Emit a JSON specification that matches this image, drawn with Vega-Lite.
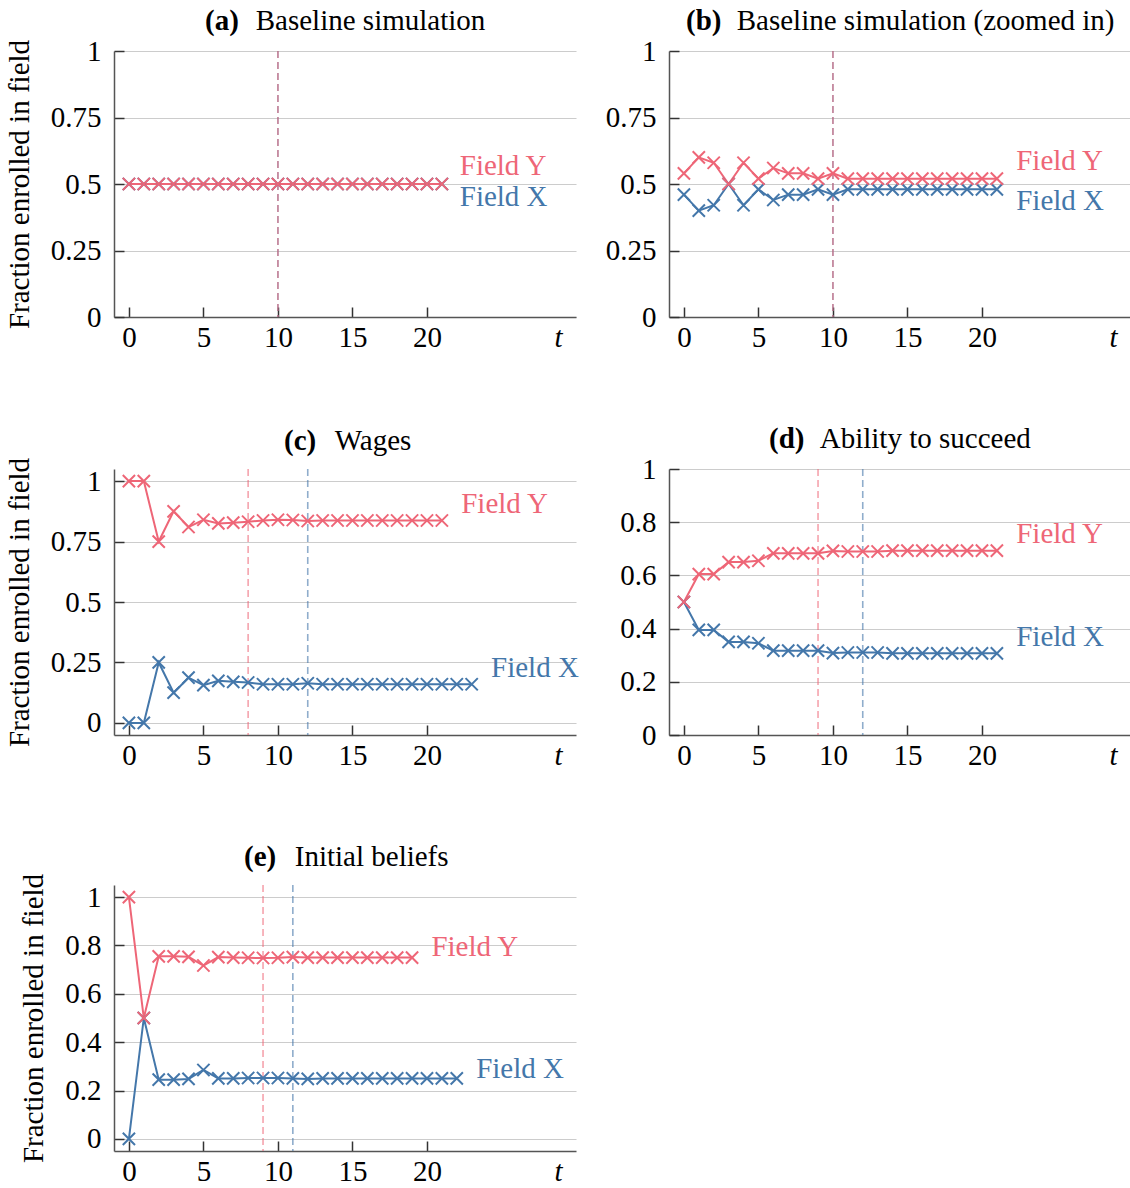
{
  "$schema": "https://vega.github.io/schema/vega-lite/v6.json",
  "background": "white",
  "padding": {"left": 5, "top": 7, "right": 5, "bottom": 5},
  "columns": 2,
  "spacing": {"row": 73, "column": 26},
  "config": {
    "font": "Liberation Serif",
    "view": {"stroke": null},
    "title": {"font": "Liberation Serif", "fontSize": 29, "fontWeight": "bold", "color": "#000", "anchor": "start", "frame": "group", "subtitleFont": "Liberation Serif", "subtitleFontSize": 29, "subtitleFontWeight": "normal", "subtitleColor": "#000", "subtitlePadding": -29, "offset": 1},
    "axis": {"labelFont": "Liberation Serif", "labelFontSize": 29, "labelColor": "#000", "titleFont": "Liberation Serif", "titleFontSize": 29, "titleFontWeight": "normal", "titleColor": "#000", "domainColor": "#555", "domainWidth": 1.5, "tickColor": "#333", "tickWidth": 1.5, "tickSize": -10, "gridColor": "#cccccc", "gridWidth": 1.2, "labelFlush": false, "labelOverlap": false},
    "axisX": {"grid": false, "labelPadding": 16},
    "axisY": {"grid": true, "labelPadding": 23, "titlePadding": 16}
  },
  "datasets": {
    "rules": [
      {"panel": "a", "series": "Field X", "t": 10}, {"panel": "a", "series": "Field Y", "t": 10},
      {"panel": "b", "series": "Field X", "t": 10}, {"panel": "b", "series": "Field Y", "t": 10},
      {"panel": "c", "series": "Field Y", "t": 8}, {"panel": "c", "series": "Field X", "t": 12},
      {"panel": "d", "series": "Field Y", "t": 9}, {"panel": "d", "series": "Field X", "t": 12},
      {"panel": "e", "series": "Field Y", "t": 9}, {"panel": "e", "series": "Field X", "t": 11}
    ],
    "labels": [
      {"panel": "a", "series": "Field Y", "t": 22.2, "share": 0.568}, {"panel": "a", "series": "Field X", "t": 22.2, "share": 0.45},
      {"panel": "b", "series": "Field Y", "t": 22.3, "share": 0.586}, {"panel": "b", "series": "Field X", "t": 22.3, "share": 0.436},
      {"panel": "c", "series": "Field Y", "t": 22.3, "share": 0.905}, {"panel": "c", "series": "Field X", "t": 24.3, "share": 0.227},
      {"panel": "d", "series": "Field Y", "t": 22.3, "share": 0.756}, {"panel": "d", "series": "Field X", "t": 22.3, "share": 0.368},
      {"panel": "e", "series": "Field Y", "t": 20.3, "share": 0.793}, {"panel": "e", "series": "Field X", "t": 23.3, "share": 0.29}
    ],
    "series": [
      {"panel": "a", "series": "Field X", "t": 0, "share": 0.5}, {"panel": "a", "series": "Field X", "t": 1, "share": 0.5}, {"panel": "a", "series": "Field X", "t": 2, "share": 0.5}, {"panel": "a", "series": "Field X", "t": 3, "share": 0.5}, {"panel": "a", "series": "Field X", "t": 4, "share": 0.5}, {"panel": "a", "series": "Field X", "t": 5, "share": 0.5}, {"panel": "a", "series": "Field X", "t": 6, "share": 0.5}, {"panel": "a", "series": "Field X", "t": 7, "share": 0.5}, {"panel": "a", "series": "Field X", "t": 8, "share": 0.5}, {"panel": "a", "series": "Field X", "t": 9, "share": 0.5}, {"panel": "a", "series": "Field X", "t": 10, "share": 0.5}, {"panel": "a", "series": "Field X", "t": 11, "share": 0.5}, {"panel": "a", "series": "Field X", "t": 12, "share": 0.5}, {"panel": "a", "series": "Field X", "t": 13, "share": 0.5}, {"panel": "a", "series": "Field X", "t": 14, "share": 0.5}, {"panel": "a", "series": "Field X", "t": 15, "share": 0.5}, {"panel": "a", "series": "Field X", "t": 16, "share": 0.5}, {"panel": "a", "series": "Field X", "t": 17, "share": 0.5}, {"panel": "a", "series": "Field X", "t": 18, "share": 0.5}, {"panel": "a", "series": "Field X", "t": 19, "share": 0.5}, {"panel": "a", "series": "Field X", "t": 20, "share": 0.5}, {"panel": "a", "series": "Field X", "t": 21, "share": 0.5},
      {"panel": "a", "series": "Field Y", "t": 0, "share": 0.5}, {"panel": "a", "series": "Field Y", "t": 1, "share": 0.5}, {"panel": "a", "series": "Field Y", "t": 2, "share": 0.5}, {"panel": "a", "series": "Field Y", "t": 3, "share": 0.5}, {"panel": "a", "series": "Field Y", "t": 4, "share": 0.5}, {"panel": "a", "series": "Field Y", "t": 5, "share": 0.5}, {"panel": "a", "series": "Field Y", "t": 6, "share": 0.5}, {"panel": "a", "series": "Field Y", "t": 7, "share": 0.5}, {"panel": "a", "series": "Field Y", "t": 8, "share": 0.5}, {"panel": "a", "series": "Field Y", "t": 9, "share": 0.5}, {"panel": "a", "series": "Field Y", "t": 10, "share": 0.5}, {"panel": "a", "series": "Field Y", "t": 11, "share": 0.5}, {"panel": "a", "series": "Field Y", "t": 12, "share": 0.5}, {"panel": "a", "series": "Field Y", "t": 13, "share": 0.5}, {"panel": "a", "series": "Field Y", "t": 14, "share": 0.5}, {"panel": "a", "series": "Field Y", "t": 15, "share": 0.5}, {"panel": "a", "series": "Field Y", "t": 16, "share": 0.5}, {"panel": "a", "series": "Field Y", "t": 17, "share": 0.5}, {"panel": "a", "series": "Field Y", "t": 18, "share": 0.5}, {"panel": "a", "series": "Field Y", "t": 19, "share": 0.5}, {"panel": "a", "series": "Field Y", "t": 20, "share": 0.5}, {"panel": "a", "series": "Field Y", "t": 21, "share": 0.5},
      {"panel": "b", "series": "Field X", "t": 0, "share": 0.46}, {"panel": "b", "series": "Field X", "t": 1, "share": 0.40}, {"panel": "b", "series": "Field X", "t": 2, "share": 0.42}, {"panel": "b", "series": "Field X", "t": 3, "share": 0.50}, {"panel": "b", "series": "Field X", "t": 4, "share": 0.42}, {"panel": "b", "series": "Field X", "t": 5, "share": 0.48}, {"panel": "b", "series": "Field X", "t": 6, "share": 0.44}, {"panel": "b", "series": "Field X", "t": 7, "share": 0.46}, {"panel": "b", "series": "Field X", "t": 8, "share": 0.46}, {"panel": "b", "series": "Field X", "t": 9, "share": 0.48}, {"panel": "b", "series": "Field X", "t": 10, "share": 0.46}, {"panel": "b", "series": "Field X", "t": 11, "share": 0.48}, {"panel": "b", "series": "Field X", "t": 12, "share": 0.48}, {"panel": "b", "series": "Field X", "t": 13, "share": 0.48}, {"panel": "b", "series": "Field X", "t": 14, "share": 0.48}, {"panel": "b", "series": "Field X", "t": 15, "share": 0.48}, {"panel": "b", "series": "Field X", "t": 16, "share": 0.48}, {"panel": "b", "series": "Field X", "t": 17, "share": 0.48}, {"panel": "b", "series": "Field X", "t": 18, "share": 0.48}, {"panel": "b", "series": "Field X", "t": 19, "share": 0.48}, {"panel": "b", "series": "Field X", "t": 20, "share": 0.48}, {"panel": "b", "series": "Field X", "t": 21, "share": 0.48},
      {"panel": "b", "series": "Field Y", "t": 0, "share": 0.54}, {"panel": "b", "series": "Field Y", "t": 1, "share": 0.60}, {"panel": "b", "series": "Field Y", "t": 2, "share": 0.58}, {"panel": "b", "series": "Field Y", "t": 3, "share": 0.50}, {"panel": "b", "series": "Field Y", "t": 4, "share": 0.58}, {"panel": "b", "series": "Field Y", "t": 5, "share": 0.52}, {"panel": "b", "series": "Field Y", "t": 6, "share": 0.56}, {"panel": "b", "series": "Field Y", "t": 7, "share": 0.54}, {"panel": "b", "series": "Field Y", "t": 8, "share": 0.54}, {"panel": "b", "series": "Field Y", "t": 9, "share": 0.52}, {"panel": "b", "series": "Field Y", "t": 10, "share": 0.54}, {"panel": "b", "series": "Field Y", "t": 11, "share": 0.52}, {"panel": "b", "series": "Field Y", "t": 12, "share": 0.52}, {"panel": "b", "series": "Field Y", "t": 13, "share": 0.52}, {"panel": "b", "series": "Field Y", "t": 14, "share": 0.52}, {"panel": "b", "series": "Field Y", "t": 15, "share": 0.52}, {"panel": "b", "series": "Field Y", "t": 16, "share": 0.52}, {"panel": "b", "series": "Field Y", "t": 17, "share": 0.52}, {"panel": "b", "series": "Field Y", "t": 18, "share": 0.52}, {"panel": "b", "series": "Field Y", "t": 19, "share": 0.52}, {"panel": "b", "series": "Field Y", "t": 20, "share": 0.52}, {"panel": "b", "series": "Field Y", "t": 21, "share": 0.52},
      {"panel": "c", "series": "Field X", "t": 0, "share": 0}, {"panel": "c", "series": "Field X", "t": 1, "share": 0}, {"panel": "c", "series": "Field X", "t": 2, "share": 0.25}, {"panel": "c", "series": "Field X", "t": 3, "share": 0.125}, {"panel": "c", "series": "Field X", "t": 4, "share": 0.187}, {"panel": "c", "series": "Field X", "t": 5, "share": 0.156}, {"panel": "c", "series": "Field X", "t": 6, "share": 0.174}, {"panel": "c", "series": "Field X", "t": 7, "share": 0.17}, {"panel": "c", "series": "Field X", "t": 8, "share": 0.167}, {"panel": "c", "series": "Field X", "t": 9, "share": 0.16}, {"panel": "c", "series": "Field X", "t": 10, "share": 0.16}, {"panel": "c", "series": "Field X", "t": 11, "share": 0.16}, {"panel": "c", "series": "Field X", "t": 12, "share": 0.164}, {"panel": "c", "series": "Field X", "t": 13, "share": 0.16}, {"panel": "c", "series": "Field X", "t": 14, "share": 0.16}, {"panel": "c", "series": "Field X", "t": 15, "share": 0.16}, {"panel": "c", "series": "Field X", "t": 16, "share": 0.16}, {"panel": "c", "series": "Field X", "t": 17, "share": 0.16}, {"panel": "c", "series": "Field X", "t": 18, "share": 0.16}, {"panel": "c", "series": "Field X", "t": 19, "share": 0.16}, {"panel": "c", "series": "Field X", "t": 20, "share": 0.16}, {"panel": "c", "series": "Field X", "t": 21, "share": 0.16}, {"panel": "c", "series": "Field X", "t": 22, "share": 0.16}, {"panel": "c", "series": "Field X", "t": 23, "share": 0.16},
      {"panel": "c", "series": "Field Y", "t": 0, "share": 1}, {"panel": "c", "series": "Field Y", "t": 1, "share": 1}, {"panel": "c", "series": "Field Y", "t": 2, "share": 0.75}, {"panel": "c", "series": "Field Y", "t": 3, "share": 0.875}, {"panel": "c", "series": "Field Y", "t": 4, "share": 0.81}, {"panel": "c", "series": "Field Y", "t": 5, "share": 0.84}, {"panel": "c", "series": "Field Y", "t": 6, "share": 0.825}, {"panel": "c", "series": "Field Y", "t": 7, "share": 0.828}, {"panel": "c", "series": "Field Y", "t": 8, "share": 0.832}, {"panel": "c", "series": "Field Y", "t": 9, "share": 0.837}, {"panel": "c", "series": "Field Y", "t": 10, "share": 0.84}, {"panel": "c", "series": "Field Y", "t": 11, "share": 0.839}, {"panel": "c", "series": "Field Y", "t": 12, "share": 0.835}, {"panel": "c", "series": "Field Y", "t": 13, "share": 0.837}, {"panel": "c", "series": "Field Y", "t": 14, "share": 0.837}, {"panel": "c", "series": "Field Y", "t": 15, "share": 0.837}, {"panel": "c", "series": "Field Y", "t": 16, "share": 0.837}, {"panel": "c", "series": "Field Y", "t": 17, "share": 0.837}, {"panel": "c", "series": "Field Y", "t": 18, "share": 0.837}, {"panel": "c", "series": "Field Y", "t": 19, "share": 0.837}, {"panel": "c", "series": "Field Y", "t": 20, "share": 0.837}, {"panel": "c", "series": "Field Y", "t": 21, "share": 0.837},
      {"panel": "d", "series": "Field X", "t": 0, "share": 0.5}, {"panel": "d", "series": "Field X", "t": 1, "share": 0.395}, {"panel": "d", "series": "Field X", "t": 2, "share": 0.395}, {"panel": "d", "series": "Field X", "t": 3, "share": 0.35}, {"panel": "d", "series": "Field X", "t": 4, "share": 0.35}, {"panel": "d", "series": "Field X", "t": 5, "share": 0.345}, {"panel": "d", "series": "Field X", "t": 6, "share": 0.317}, {"panel": "d", "series": "Field X", "t": 7, "share": 0.317}, {"panel": "d", "series": "Field X", "t": 8, "share": 0.317}, {"panel": "d", "series": "Field X", "t": 9, "share": 0.317}, {"panel": "d", "series": "Field X", "t": 10, "share": 0.308}, {"panel": "d", "series": "Field X", "t": 11, "share": 0.31}, {"panel": "d", "series": "Field X", "t": 12, "share": 0.31}, {"panel": "d", "series": "Field X", "t": 13, "share": 0.31}, {"panel": "d", "series": "Field X", "t": 14, "share": 0.307}, {"panel": "d", "series": "Field X", "t": 15, "share": 0.307}, {"panel": "d", "series": "Field X", "t": 16, "share": 0.307}, {"panel": "d", "series": "Field X", "t": 17, "share": 0.307}, {"panel": "d", "series": "Field X", "t": 18, "share": 0.307}, {"panel": "d", "series": "Field X", "t": 19, "share": 0.307}, {"panel": "d", "series": "Field X", "t": 20, "share": 0.307}, {"panel": "d", "series": "Field X", "t": 21, "share": 0.307},
      {"panel": "d", "series": "Field Y", "t": 0, "share": 0.5}, {"panel": "d", "series": "Field Y", "t": 1, "share": 0.605}, {"panel": "d", "series": "Field Y", "t": 2, "share": 0.605}, {"panel": "d", "series": "Field Y", "t": 3, "share": 0.65}, {"panel": "d", "series": "Field Y", "t": 4, "share": 0.65}, {"panel": "d", "series": "Field Y", "t": 5, "share": 0.655}, {"panel": "d", "series": "Field Y", "t": 6, "share": 0.683}, {"panel": "d", "series": "Field Y", "t": 7, "share": 0.683}, {"panel": "d", "series": "Field Y", "t": 8, "share": 0.683}, {"panel": "d", "series": "Field Y", "t": 9, "share": 0.683}, {"panel": "d", "series": "Field Y", "t": 10, "share": 0.692}, {"panel": "d", "series": "Field Y", "t": 11, "share": 0.69}, {"panel": "d", "series": "Field Y", "t": 12, "share": 0.69}, {"panel": "d", "series": "Field Y", "t": 13, "share": 0.69}, {"panel": "d", "series": "Field Y", "t": 14, "share": 0.693}, {"panel": "d", "series": "Field Y", "t": 15, "share": 0.693}, {"panel": "d", "series": "Field Y", "t": 16, "share": 0.693}, {"panel": "d", "series": "Field Y", "t": 17, "share": 0.693}, {"panel": "d", "series": "Field Y", "t": 18, "share": 0.693}, {"panel": "d", "series": "Field Y", "t": 19, "share": 0.693}, {"panel": "d", "series": "Field Y", "t": 20, "share": 0.693}, {"panel": "d", "series": "Field Y", "t": 21, "share": 0.693},
      {"panel": "e", "series": "Field X", "t": 0, "share": 0}, {"panel": "e", "series": "Field X", "t": 1, "share": 0.5}, {"panel": "e", "series": "Field X", "t": 2, "share": 0.245}, {"panel": "e", "series": "Field X", "t": 3, "share": 0.245}, {"panel": "e", "series": "Field X", "t": 4, "share": 0.248}, {"panel": "e", "series": "Field X", "t": 5, "share": 0.285}, {"panel": "e", "series": "Field X", "t": 6, "share": 0.25}, {"panel": "e", "series": "Field X", "t": 7, "share": 0.25}, {"panel": "e", "series": "Field X", "t": 8, "share": 0.252}, {"panel": "e", "series": "Field X", "t": 9, "share": 0.252}, {"panel": "e", "series": "Field X", "t": 10, "share": 0.252}, {"panel": "e", "series": "Field X", "t": 11, "share": 0.25}, {"panel": "e", "series": "Field X", "t": 12, "share": 0.248}, {"panel": "e", "series": "Field X", "t": 13, "share": 0.25}, {"panel": "e", "series": "Field X", "t": 14, "share": 0.25}, {"panel": "e", "series": "Field X", "t": 15, "share": 0.25}, {"panel": "e", "series": "Field X", "t": 16, "share": 0.25}, {"panel": "e", "series": "Field X", "t": 17, "share": 0.25}, {"panel": "e", "series": "Field X", "t": 18, "share": 0.25}, {"panel": "e", "series": "Field X", "t": 19, "share": 0.25}, {"panel": "e", "series": "Field X", "t": 20, "share": 0.25}, {"panel": "e", "series": "Field X", "t": 21, "share": 0.25}, {"panel": "e", "series": "Field X", "t": 22, "share": 0.25},
      {"panel": "e", "series": "Field Y", "t": 0, "share": 1}, {"panel": "e", "series": "Field Y", "t": 1, "share": 0.5}, {"panel": "e", "series": "Field Y", "t": 2, "share": 0.755}, {"panel": "e", "series": "Field Y", "t": 3, "share": 0.755}, {"panel": "e", "series": "Field Y", "t": 4, "share": 0.753}, {"panel": "e", "series": "Field Y", "t": 5, "share": 0.717}, {"panel": "e", "series": "Field Y", "t": 6, "share": 0.752}, {"panel": "e", "series": "Field Y", "t": 7, "share": 0.75}, {"panel": "e", "series": "Field Y", "t": 8, "share": 0.749}, {"panel": "e", "series": "Field Y", "t": 9, "share": 0.748}, {"panel": "e", "series": "Field Y", "t": 10, "share": 0.749}, {"panel": "e", "series": "Field Y", "t": 11, "share": 0.752}, {"panel": "e", "series": "Field Y", "t": 12, "share": 0.75}, {"panel": "e", "series": "Field Y", "t": 13, "share": 0.75}, {"panel": "e", "series": "Field Y", "t": 14, "share": 0.75}, {"panel": "e", "series": "Field Y", "t": 15, "share": 0.75}, {"panel": "e", "series": "Field Y", "t": 16, "share": 0.75}, {"panel": "e", "series": "Field Y", "t": 17, "share": 0.75}, {"panel": "e", "series": "Field Y", "t": 18, "share": 0.75}, {"panel": "e", "series": "Field Y", "t": 19, "share": 0.75}
    ]
  },
  "concat": [
    {
      "width": 462, "height": 266,
      "title": {"text": "(a)", "subtitle": "\u200b\u00a0\u00a0\u00a0\u00a0\u00a0\u00a0\u00a0Baseline simulation", "dx": 91},
      "layer": [
        {"data": {"name": "rules"}, "transform": [{"filter": "datum.panel === 'a'"}], "mark": {"type": "rule", "strokeDash": [7, 4], "strokeWidth": 1.6, "opacity": 0.6},
         "encoding": {"x": {"field": "t", "type": "quantitative"}, "color": {"field": "series", "type": "nominal", "scale": {"domain": ["Field X", "Field Y"], "range": ["#4477AA", "#EE6677"]}, "legend": null}}},
        {"data": {"name": "series"}, "transform": [{"filter": "datum.panel === 'a'"}], "mark": {"type": "line", "strokeWidth": 2},
         "encoding": {"x": {"field": "t", "type": "quantitative", "scale": {"domain": [-1, 30], "nice": false, "zero": false}, "axis": {"title": null, "values": [0, 5, 10, 15, 20, 28.8], "format": ".2~g", "labelExpr": "datum.value > 25 ? 't' : datum.label", "tickOpacity": {"condition": {"test": "datum.value > 25", "value": 0}, "value": 1}, "labelFontStyle": {"condition": {"test": "datum.value > 25", "value": "italic"}, "value": "normal"}}},
                      "y": {"field": "share", "type": "quantitative", "scale": {"domain": [0, 1], "nice": false, "zero": false}, "axis": {"title": "Fraction enrolled in field", "values": [0, 0.25, 0.5, 0.75, 1], "format": ".2~g"}},
                      "color": {"field": "series", "type": "nominal", "legend": null}}},
        {"data": {"name": "series"}, "transform": [{"filter": "datum.panel === 'a'"}], "mark": {"type": "point", "shape": "M-1,-1L1,1M-1,1L1,-1", "filled": false, "size": 150, "strokeWidth": 2, "opacity": 1},
         "encoding": {"x": {"field": "t", "type": "quantitative"}, "y": {"field": "share", "type": "quantitative"}, "color": {"field": "series", "type": "nominal", "legend": null}}},
        {"data": {"name": "labels"}, "transform": [{"filter": "datum.panel === 'a'"}], "mark": {"type": "text", "align": "left", "baseline": "middle", "font": "Liberation Serif", "fontSize": 29},
         "encoding": {"x": {"field": "t", "type": "quantitative"}, "y": {"field": "share", "type": "quantitative"}, "text": {"field": "series"}, "color": {"field": "series", "type": "nominal", "legend": null}}}
      ]
    },
    {
      "width": 462, "height": 266,
      "title": {"text": "(b)", "subtitle": "\u200b\u00a0\u00a0\u00a0\u00a0\u00a0\u00a0\u00a0Baseline simulation (zoomed in)", "dx": 17},
      "layer": [
        {"data": {"name": "rules"}, "transform": [{"filter": "datum.panel === 'b'"}], "mark": {"type": "rule", "strokeDash": [7, 4], "strokeWidth": 1.6, "opacity": 0.6},
         "encoding": {"x": {"field": "t", "type": "quantitative"}, "color": {"field": "series", "type": "nominal", "scale": {"domain": ["Field X", "Field Y"], "range": ["#4477AA", "#EE6677"]}, "legend": null}}},
        {"data": {"name": "series"}, "transform": [{"filter": "datum.panel === 'b'"}], "mark": {"type": "line", "strokeWidth": 2},
         "encoding": {"x": {"field": "t", "type": "quantitative", "scale": {"domain": [-1, 30], "nice": false, "zero": false}, "axis": {"title": null, "values": [0, 5, 10, 15, 20, 28.8], "format": ".2~g", "labelExpr": "datum.value > 25 ? 't' : datum.label", "tickOpacity": {"condition": {"test": "datum.value > 25", "value": 0}, "value": 1}, "labelFontStyle": {"condition": {"test": "datum.value > 25", "value": "italic"}, "value": "normal"}}},
                      "y": {"field": "share", "type": "quantitative", "scale": {"domain": [0, 1], "nice": false, "zero": false}, "axis": {"title": null, "values": [0, 0.25, 0.5, 0.75, 1], "format": ".2~g"}},
                      "color": {"field": "series", "type": "nominal", "legend": null}}},
        {"data": {"name": "series"}, "transform": [{"filter": "datum.panel === 'b'"}], "mark": {"type": "point", "shape": "M-1,-1L1,1M-1,1L1,-1", "filled": false, "size": 150, "strokeWidth": 2, "opacity": 1},
         "encoding": {"x": {"field": "t", "type": "quantitative"}, "y": {"field": "share", "type": "quantitative"}, "color": {"field": "series", "type": "nominal", "legend": null}}},
        {"data": {"name": "labels"}, "transform": [{"filter": "datum.panel === 'b'"}], "mark": {"type": "text", "align": "left", "baseline": "middle", "font": "Liberation Serif", "fontSize": 29},
         "encoding": {"x": {"field": "t", "type": "quantitative"}, "y": {"field": "share", "type": "quantitative"}, "text": {"field": "series"}, "color": {"field": "series", "type": "nominal", "legend": null}}}
      ]
    },
    {
      "width": 462, "height": 266,
      "title": {"text": "(c)", "subtitle": "\u200b\u00a0\u00a0\u00a0\u00a0\u00a0\u00a0\u00a0Wages", "dx": 170},
      "layer": [
        {"data": {"name": "rules"}, "transform": [{"filter": "datum.panel === 'c'"}], "mark": {"type": "rule", "strokeDash": [7, 4], "strokeWidth": 1.6, "opacity": 0.6},
         "encoding": {"x": {"field": "t", "type": "quantitative"}, "color": {"field": "series", "type": "nominal", "scale": {"domain": ["Field X", "Field Y"], "range": ["#4477AA", "#EE6677"]}, "legend": null}}},
        {"data": {"name": "series"}, "transform": [{"filter": "datum.panel === 'c'"}], "mark": {"type": "line", "strokeWidth": 2},
         "encoding": {"x": {"field": "t", "type": "quantitative", "scale": {"domain": [-1, 30], "nice": false, "zero": false}, "axis": {"title": null, "values": [0, 5, 10, 15, 20, 28.8], "format": ".2~g", "labelExpr": "datum.value > 25 ? 't' : datum.label", "tickOpacity": {"condition": {"test": "datum.value > 25", "value": 0}, "value": 1}, "labelFontStyle": {"condition": {"test": "datum.value > 25", "value": "italic"}, "value": "normal"}}},
                      "y": {"field": "share", "type": "quantitative", "scale": {"domain": [-0.05, 1.05], "nice": false, "zero": false}, "axis": {"title": "Fraction enrolled in field", "values": [0, 0.25, 0.5, 0.75, 1], "format": ".2~g"}},
                      "color": {"field": "series", "type": "nominal", "legend": null}}},
        {"data": {"name": "series"}, "transform": [{"filter": "datum.panel === 'c'"}], "mark": {"type": "point", "shape": "M-1,-1L1,1M-1,1L1,-1", "filled": false, "size": 150, "strokeWidth": 2, "opacity": 1},
         "encoding": {"x": {"field": "t", "type": "quantitative"}, "y": {"field": "share", "type": "quantitative"}, "color": {"field": "series", "type": "nominal", "legend": null}}},
        {"data": {"name": "labels"}, "transform": [{"filter": "datum.panel === 'c'"}], "mark": {"type": "text", "align": "left", "baseline": "middle", "font": "Liberation Serif", "fontSize": 29},
         "encoding": {"x": {"field": "t", "type": "quantitative"}, "y": {"field": "share", "type": "quantitative"}, "text": {"field": "series"}, "color": {"field": "series", "type": "nominal", "legend": null}}}
      ]
    },
    {
      "width": 462, "height": 266,
      "title": {"text": "(d)", "subtitle": "\u200b\u00a0\u00a0\u00a0\u00a0\u00a0\u00a0\u00a0Ability to succeed", "dx": 100},
      "layer": [
        {"data": {"name": "rules"}, "transform": [{"filter": "datum.panel === 'd'"}], "mark": {"type": "rule", "strokeDash": [7, 4], "strokeWidth": 1.6, "opacity": 0.6},
         "encoding": {"x": {"field": "t", "type": "quantitative"}, "color": {"field": "series", "type": "nominal", "scale": {"domain": ["Field X", "Field Y"], "range": ["#4477AA", "#EE6677"]}, "legend": null}}},
        {"data": {"name": "series"}, "transform": [{"filter": "datum.panel === 'd'"}], "mark": {"type": "line", "strokeWidth": 2},
         "encoding": {"x": {"field": "t", "type": "quantitative", "scale": {"domain": [-1, 30], "nice": false, "zero": false}, "axis": {"title": null, "values": [0, 5, 10, 15, 20, 28.8], "format": ".2~g", "labelExpr": "datum.value > 25 ? 't' : datum.label", "tickOpacity": {"condition": {"test": "datum.value > 25", "value": 0}, "value": 1}, "labelFontStyle": {"condition": {"test": "datum.value > 25", "value": "italic"}, "value": "normal"}}},
                      "y": {"field": "share", "type": "quantitative", "scale": {"domain": [0, 1], "nice": false, "zero": false}, "axis": {"title": null, "values": [0, 0.2, 0.4, 0.6, 0.8, 1], "format": ".2~g"}},
                      "color": {"field": "series", "type": "nominal", "legend": null}}},
        {"data": {"name": "series"}, "transform": [{"filter": "datum.panel === 'd'"}], "mark": {"type": "point", "shape": "M-1,-1L1,1M-1,1L1,-1", "filled": false, "size": 150, "strokeWidth": 2, "opacity": 1},
         "encoding": {"x": {"field": "t", "type": "quantitative"}, "y": {"field": "share", "type": "quantitative"}, "color": {"field": "series", "type": "nominal", "legend": null}}},
        {"data": {"name": "labels"}, "transform": [{"filter": "datum.panel === 'd'"}], "mark": {"type": "text", "align": "left", "baseline": "middle", "font": "Liberation Serif", "fontSize": 29},
         "encoding": {"x": {"field": "t", "type": "quantitative"}, "y": {"field": "share", "type": "quantitative"}, "text": {"field": "series"}, "color": {"field": "series", "type": "nominal", "legend": null}}}
      ]
    },
    {
      "width": 462, "height": 266,
      "title": {"text": "(e)", "subtitle": "\u200b\u00a0\u00a0\u00a0\u00a0\u00a0\u00a0\u00a0Initial beliefs", "dx": 130},
      "layer": [
        {"data": {"name": "rules"}, "transform": [{"filter": "datum.panel === 'e'"}], "mark": {"type": "rule", "strokeDash": [7, 4], "strokeWidth": 1.6, "opacity": 0.6},
         "encoding": {"x": {"field": "t", "type": "quantitative"}, "color": {"field": "series", "type": "nominal", "scale": {"domain": ["Field X", "Field Y"], "range": ["#4477AA", "#EE6677"]}, "legend": null}}},
        {"data": {"name": "series"}, "transform": [{"filter": "datum.panel === 'e'"}], "mark": {"type": "line", "strokeWidth": 2},
         "encoding": {"x": {"field": "t", "type": "quantitative", "scale": {"domain": [-1, 30], "nice": false, "zero": false}, "axis": {"title": null, "values": [0, 5, 10, 15, 20, 28.8], "format": ".2~g", "labelExpr": "datum.value > 25 ? 't' : datum.label", "tickOpacity": {"condition": {"test": "datum.value > 25", "value": 0}, "value": 1}, "labelFontStyle": {"condition": {"test": "datum.value > 25", "value": "italic"}, "value": "normal"}}},
                      "y": {"field": "share", "type": "quantitative", "scale": {"domain": [-0.05, 1.05], "nice": false, "zero": false}, "axis": {"title": "Fraction enrolled in field", "values": [0, 0.2, 0.4, 0.6, 0.8, 1], "format": ".2~g"}},
                      "color": {"field": "series", "type": "nominal", "legend": null}}},
        {"data": {"name": "series"}, "transform": [{"filter": "datum.panel === 'e'"}], "mark": {"type": "point", "shape": "M-1,-1L1,1M-1,1L1,-1", "filled": false, "size": 150, "strokeWidth": 2, "opacity": 1},
         "encoding": {"x": {"field": "t", "type": "quantitative"}, "y": {"field": "share", "type": "quantitative"}, "color": {"field": "series", "type": "nominal", "legend": null}}},
        {"data": {"name": "labels"}, "transform": [{"filter": "datum.panel === 'e'"}], "mark": {"type": "text", "align": "left", "baseline": "middle", "font": "Liberation Serif", "fontSize": 29},
         "encoding": {"x": {"field": "t", "type": "quantitative"}, "y": {"field": "share", "type": "quantitative"}, "text": {"field": "series"}, "color": {"field": "series", "type": "nominal", "legend": null}}}
      ]
    }
  ]
}
